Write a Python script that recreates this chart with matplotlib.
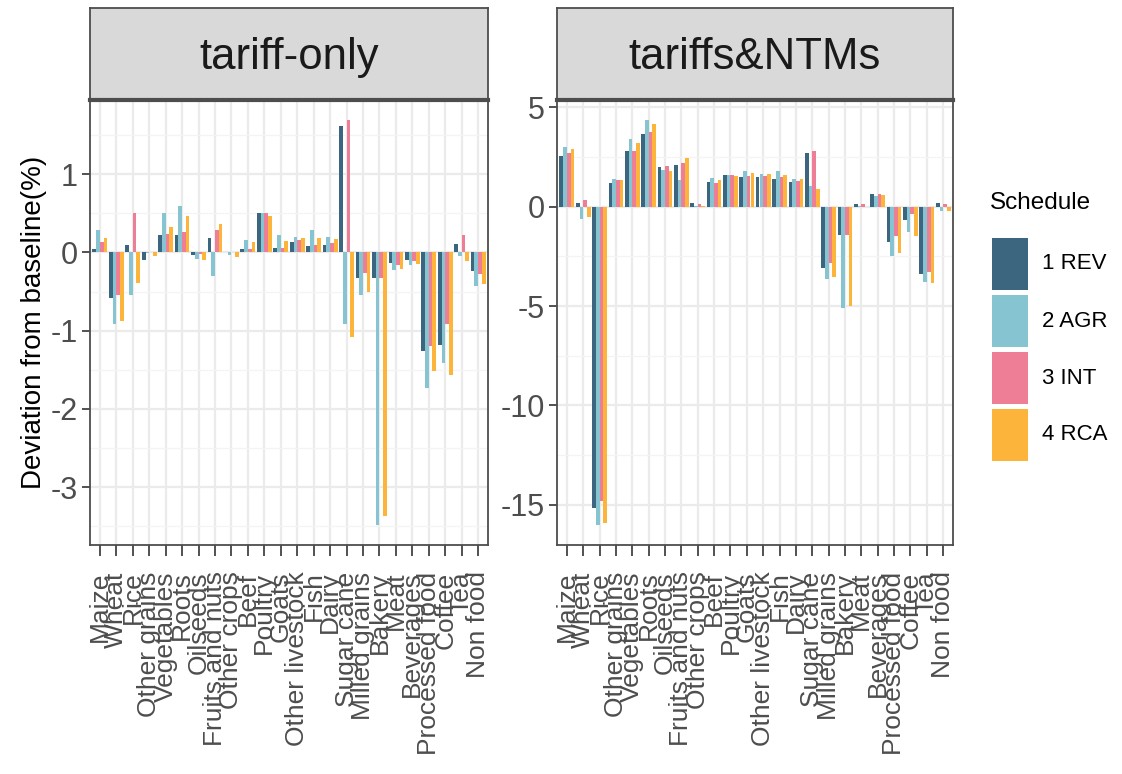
import numpy as np
import matplotlib.pyplot as plt
from matplotlib.patches import Rectangle
from matplotlib.ticker import MultipleLocator

W, H = 1122, 774

sectors = ["Maize", "Wheat", "Rice", "Other grains", "Vegetables", "Roots",
           "Oilseeds", "Fruits and nuts", "Other crops", "Beef", "Poultry",
           "Goats", "Other livestock", "Fish", "Dairy", "Sugar cane",
           "Milled grains", "Bakery", "Meat", "Beverages", "Processed food",
           "Coffee", "Tea", "Non food"]
schedules = ["1 REV", "2 AGR", "3 INT", "4 RCA"]
colors = ["#3C6580", "#86C4D1", "#EE7E95", "#FDB43A"]

# deviation from baseline (%), one list per schedule
tariff_rev = [0.05, -0.58, 0.09, -0.09, 0.22, 0.22, -0.03, 0.19, 0.01, 0.05, 0.50, 0.06,
              0.13, 0.08, 0.10, 1.61, -0.32, -0.32, -0.14, -0.09, -1.26, -1.18, 0.11, -0.24]
tariff_agr = [0.29, -0.92, -0.54, -0.01, 0.50, 0.59, -0.08, -0.30, -0.03, 0.16, 0.50, 0.22,
              0.20, 0.29, 0.20, -0.92, -0.54, -3.48, -0.22, -0.16, -1.73, -1.41, -0.05, -0.43]
tariff_int = [0.14, -0.54, 0.51, 0.01, 0.23, 0.26, -0.02, 0.29, 0.00, 0.05, 0.50, 0.06,
              0.16, 0.10, 0.12, 1.69, -0.26, -0.32, -0.16, -0.11, -1.19, -0.92, 0.22, -0.28]
tariff_rca = [0.18, -0.87, -0.39, -0.05, 0.33, 0.46, -0.09, 0.37, -0.06, 0.14, 0.47, 0.15,
              0.18, 0.18, 0.17, -1.08, -0.50, -3.37, -0.21, -0.15, -1.51, -1.56, -0.11, -0.40]

ntm_rev = [2.55, 0.18, -15.15, 1.18, 2.82, 3.68, 2.02, 2.10, 0.18, 1.22, 1.60, 1.48,
           1.48, 1.38, 1.22, 2.72, -3.07, -1.40, 0.15, 0.65, -1.77, -0.68, -3.40, 0.18]
ntm_agr = [3.02, -0.62, -16.00, 1.38, 3.43, 4.35, 1.85, 1.35, 0.05, 1.42, 1.60, 1.82,
           1.65, 1.82, 1.38, 1.05, -3.62, -5.12, 0.02, 0.52, -2.48, -1.28, -3.77, -0.23]
ntm_int = [2.68, 0.32, -14.80, 1.35, 2.82, 3.77, 2.05, 2.22, 0.15, 1.18, 1.60, 1.52,
           1.55, 1.48, 1.27, 2.82, -2.82, -1.40, 0.15, 0.65, -1.48, -0.35, -3.28, 0.15]
ntm_rca = [2.90, -0.52, -15.90, 1.35, 3.18, 4.18, 1.82, 2.43, 0.02, 1.35, 1.52, 1.68,
           1.65, 1.60, 1.38, 0.88, -3.52, -5.02, 0.00, 0.60, -2.32, -1.45, -3.85, -0.23]

panels = [
    ("tariff-only", [tariff_rev, tariff_agr, tariff_int, tariff_rca], 1, 0.5),
    ("tariffs&NTMs", [ntm_rev, ntm_agr, ntm_int, ntm_rca], 5, 2.5),
]

plt.rcParams["font.family"] = ["Liberation Sans", "DejaVu Sans"]
plt.rcParams["axes.unicode_minus"] = False

fig = plt.figure(figsize=(W / 100, H / 100), dpi=100)
fig.patch.set_facecolor("white")

panel_x = [(90, 398), (557, 396)]
x = np.arange(len(sectors))
bw = 0.9 / 4

for (px, pw), (title, series, major, minor) in zip(panel_x, panels):
    ax = fig.add_axes([px / W, 1 - 545 / H, pw / W, 445 / H])
    for k, (vals, c) in enumerate(zip(series, colors)):
        ax.bar(x + (k - 1.5) * bw, vals, width=bw, color=c, linewidth=0,
               label=schedules[k], zorder=3)

    lo = min(min(s) for s in series)
    hi = max(max(s) for s in series)
    pad = 0.05 * (hi - lo)
    ax.set_ylim(lo - pad, hi + pad)
    ax.set_xlim(-0.6, len(sectors) - 0.4)

    ax.yaxis.set_major_locator(MultipleLocator(major))
    ax.yaxis.set_minor_locator(MultipleLocator(minor))
    ax.set_xticks(x)
    ax.set_xticklabels(sectors, rotation=90, fontsize=19, color="#4D4D4D")
    ax.tick_params(axis="y", labelsize=22, labelcolor="#4D4D4D", length=6,
                   width=1.2, color="#333333", pad=3)
    ax.tick_params(axis="x", length=8, width=1.2, color="#333333", pad=11)
    ax.tick_params(which="minor", length=0)

    ax.grid(True, which="major", color="#EBEBEB", linewidth=1.6, zorder=0)
    ax.grid(True, which="minor", axis="y", color="#F4F4F4", linewidth=0.9, zorder=0)
    ax.set_axisbelow(True)
    for sp in ax.spines.values():
        sp.set_color("#4D4D4D")
        sp.set_linewidth(1.3)

    # facet strip
    sax = fig.add_axes([px / W, 1 - 100 / H, pw / W, 92 / H])
    sax.set_facecolor("#D9D9D9")
    sax.set_xticks([])
    sax.set_yticks([])
    for sp in sax.spines.values():
        sp.set_color("#4D4D4D")
        sp.set_linewidth(1.3)
    sax.spines["bottom"].set_linewidth(3)
    sax.text(0.5, 0.46, title, ha="center", va="center", fontsize=31.5,
             color="#1A1A1A", transform=sax.transAxes)

    if px == 90:
        ax.set_ylabel("Deviation from baseline(%)", fontsize=20, color="black",
                      labelpad=2)

# legend: tall colour keys stacked under the title
fig.text(990 / W, 1 - 203 / H, "Schedule", fontsize=17.5, color="black",
         ha="left", va="center")
key_top = 238
for k, (name, c) in enumerate(zip(schedules, colors)):
    top = key_top + k * 57
    fig.add_artist(Rectangle((992 / W, 1 - (top + 52) / H), 36 / W, 52 / H,
                             transform=fig.transFigure, facecolor=c,
                             edgecolor="none"))
    fig.text(1042 / W, 1 - (top + 26) / H, name, fontsize=16, color="black",
             ha="left", va="center")

fig.savefig("out.png", dpi=100, facecolor="white")
